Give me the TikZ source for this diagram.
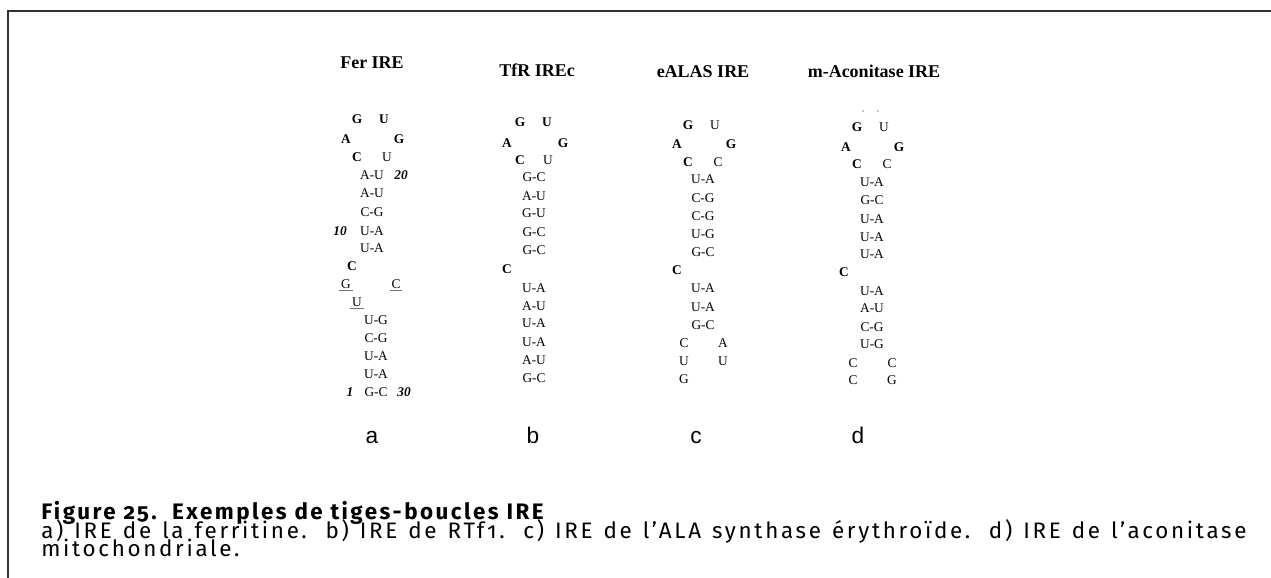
\documentclass[tikz,border=0pt]{standalone}
\usepackage{fontspec}
\setmainfont{Liberation Serif}
\newfontfamily\lettersans{Liberation Sans}
\newfontfamily\capfont[Numbers=OldStyle, LetterSpace=12]{Fira Sans}
\newfontfamily\capbold[Numbers=OldStyle, LetterSpace=11]{Fira Sans}

\tikzset{
  nt/.style={inner sep=0pt, anchor=base, yshift=-3pt, font=\fontsize{10}{12}\selectfont},
  ntb/.style={nt, font=\fontsize{10}{12}\selectfont\bfseries},
  num/.style={nt, font=\fontsize{10}{12}\selectfont\bfseries\itshape},
  ttl/.style={inner sep=0pt, anchor=base, yshift=-4.4pt, font=\fontsize{13.5}{16}\selectfont\bfseries},
  panel/.style={inner sep=0pt, anchor=base, font=\lettersans\fontsize{17}{20}\selectfont},
  capline/.style={inner sep=0pt, anchor=base west, font=\capfont\fontsize{16.8}{13.5}\selectfont},
  ul/.style={draw=black!55, line width=0.7pt},
  frame/.style={draw=black!80, line width=1.5pt},
}

\begin{document}
\begin{tikzpicture}[x=0.75pt,y=-0.75pt]
\useasboundingbox (0,0) rectangle (1271,578);

% page frame (top and left rules)
\coordinate (fb) at (8,578);
\coordinate (fc) at (8,11);
\coordinate (fr) at (1271,11);
\draw[frame] (fb) -- (fc) -- (fr);

% ---------- titles ----------
\node[ttl] (t1) at (372,63) {Fer IRE};
\node[ttl] (t2) at (537,71) {TfR IREc};
\node[ttl] (t3) at (703,72) {eALAS IRE};
\node[ttl] (t4) at (874,72) {m-Aconitase IRE};

% ---------- a) ferritin IRE ----------
\node[ntb] (a1) at (357,119) {G};
\node[ntb] (a2) at (384,119) {U};
\node[ntb] (a3) at (346,139) {A};
\node[ntb] (a4) at (399,139) {G};
\node[ntb] (a5) at (357,157) {C};
\node[nt]  (a6) at (387,157) {U};
\node[nt]  (a7) at (372,175) {A-U};
\node[num] (a7n) at (401,175) {20};
\node[nt]  (a8) at (372,193) {A-U};
\node[nt]  (a9) at (372,212) {C-G};
\node[nt]  (a10) at (372,231) {U-A};
\node[num] (a10n) at (340,231) {10};
\node[nt]  (a11) at (372,248) {U-A};
\node[ntb] (a12) at (352,266) {C};
\node[nt]  (a13) at (346,284) {G};
\node[nt]  (a14) at (396,284) {C};
\node[nt]  (a15) at (357,302) {U};
\node[nt]  (a16) at (376,320) {U-G};
\node[nt]  (a17) at (376,338) {C-G};
\node[nt]  (a18) at (376,356) {U-A};
\node[nt]  (a19) at (376,374) {U-A};
\node[nt]  (a20) at (376,392) {G-C};
\node[num] (a20l) at (350,392) {1};
\node[num] (a20r) at (404,392) {30};
% underlined bulge bases
\draw[ul] ([xshift=-1.2pt,yshift=-2pt]a13.base west) -- ([xshift=1.2pt,yshift=-2pt]a13.base east);
\draw[ul] ([xshift=-1.2pt,yshift=-2pt]a14.base west) -- ([xshift=1.2pt,yshift=-2pt]a14.base east);
\draw[ul] ([xshift=-1.2pt,yshift=-2pt]a15.base west) -- ([xshift=1.2pt,yshift=-2pt]a15.base east);

% ---------- b) transferrin receptor IRE ----------
\node[ntb] (b1) at (520,122) {G};
\node[ntb] (b2) at (547,122) {U};
\node[ntb] (b3) at (507,143) {A};
\node[ntb] (b4) at (563,143) {G};
\node[ntb] (b5) at (520,160) {C};
\node[nt]  (b6) at (548,160) {U};
\node[nt]  (b7) at (534,177) {G-C};
\node[nt]  (b8) at (534,196) {A-U};
\node[nt]  (b9) at (534,213) {G-U};
\node[nt]  (b10) at (534,232) {G-C};
\node[nt]  (b11) at (534,250) {G-C};
\node[ntb] (b12) at (507,269) {C};
\node[nt]  (b13) at (534,288) {U-A};
\node[nt]  (b14) at (534,306) {A-U};
\node[nt]  (b15) at (534,323) {U-A};
\node[nt]  (b16) at (534,342) {U-A};
\node[nt]  (b17) at (534,360) {A-U};
\node[nt]  (b18) at (534,378) {G-C};

% ---------- c) eALAS IRE ----------
\node[ntb] (c1) at (688,125) {G};
\node[nt]  (c2) at (715,125) {U};
\node[ntb] (c3) at (677,144) {A};
\node[ntb] (c4) at (731,144) {G};
\node[ntb] (c5) at (688,162) {C};
\node[nt]  (c6) at (718,162) {C};
\node[nt]  (c7) at (703,179) {U-A};
\node[nt]  (c8) at (703,198) {C-G};
\node[nt]  (c9) at (703,216) {C-G};
\node[nt]  (c10) at (703,234) {U-G};
\node[nt]  (c11) at (703,252) {G-C};
\node[ntb] (c12) at (677,270) {C};
\node[nt]  (c13) at (703,288) {U-A};
\node[nt]  (c14) at (703,307) {U-A};
\node[nt]  (c15) at (703,325) {G-C};
\node[nt]  (c16) at (684,343) {C};
\node[nt]  (c17) at (723,343) {A};
\node[nt]  (c18) at (684,361) {U};
\node[nt]  (c19) at (723,361) {U};
\node[nt]  (c20) at (684,379) {G};

% ---------- d) mitochondrial aconitase IRE ----------
\fill[black!45] (863,111) circle (0.9);
\fill[black!45] (878,111) circle (0.9);
\node[ntb] (d1) at (857,127) {G};
\node[nt]  (d2) at (884,127) {U};
\node[ntb] (d3) at (846,147) {A};
\node[ntb] (d4) at (899,147) {G};
\node[ntb] (d5) at (857,164) {C};
\node[nt]  (d6) at (887,164) {C};
\node[nt]  (d7) at (872,182) {U-A};
\node[nt]  (d8) at (872,200) {G-C};
\node[nt]  (d9) at (872,219) {U-A};
\node[nt]  (d10) at (872,237) {U-A};
\node[nt]  (d11) at (872,254) {U-A};
\node[ntb] (d12) at (844,272) {C};
\node[nt]  (d13) at (872,291) {U-A};
\node[nt]  (d14) at (872,308) {A-U};
\node[nt]  (d15) at (872,327) {C-G};
\node[nt]  (d16) at (872,344) {U-G};
\node[nt]  (d17) at (853,363) {C};
\node[nt]  (d18) at (892,363) {C};
\node[nt]  (d19) at (853,380) {C};
\node[nt]  (d20) at (892,380) {G};

% ---------- panel letters ----------
\node[panel] (pa) at (372,443) {a};
\node[panel] (pb) at (533,443) {b};
\node[panel] (pc) at (696,443) {c};
\node[panel] (pd) at (858,443) {d};

% ---------- caption ----------
\node[capline, font=\capbold\fontsize{16.8}{13.5}\selectfont\bfseries] (cap1) at (41,519)
  {Figure 25.\ \ Exemples de tiges-boucles IRE};
\node[capline, text height=10pt, text depth=0pt] (cap2) at (41,538)
  {\makebox[904pt][s]{a) IRE de la ferritine. b) IRE de RTf1. c) IRE de l’ALA synthase érythroïde. d) IRE de l’aconitase}};
\node[capline, text height=10pt] (cap3) at (41,556) {mitochondriale.};
\end{tikzpicture}
\end{document}
